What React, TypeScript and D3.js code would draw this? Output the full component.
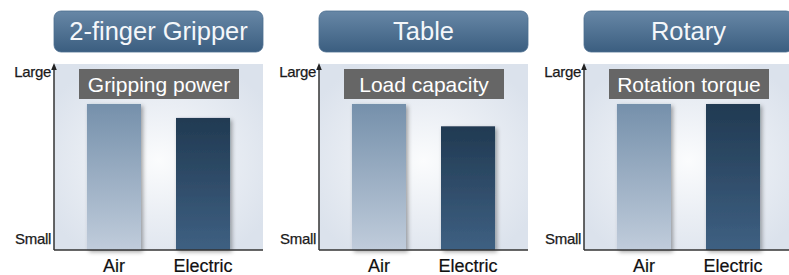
import React from "react";
import * as d3 from "d3";

const panelTitles = ["2-finger Gripper", "Table", "Rotary"];
const metricNames = ["Gripping power", "Load capacity", "Rotation torque"];
const categories = ["Air", "Electric"];
const airValues = [78.5, 78.5, 78.5];
const electricValues = [71, 66.5, 78.5];
const axisLabels = ["Small", "Large"];

const W = 789;
const H = 275;
const FONT = "'Liberation Sans', Arial, sans-serif";

export default function App() {
  const panelX = d3.scaleLinear().domain([0, 1]).range([54, 319]);
  const panelW = 209;
  const y = d3.scaleLinear().domain([0, 100]).range([250, 64]);

  return (
    <svg
      width={W}
      height={H}
      style={{ position: "absolute", left: 0, top: 0, background: "#fff" }}
      fontFamily={FONT}
    >
      <defs>
        <linearGradient id="titleGrad" x1="0" y1="0" x2="0" y2="1">
          <stop offset="0" stopColor="#6787a6" />
          <stop offset="1" stopColor="#3b5e80" />
        </linearGradient>
        <radialGradient id="bgGrad" cx="0.5" cy="0.52" r="0.6">
          <stop offset="0" stopColor="#fbfcfd" />
          <stop offset="0.5" stopColor="#eaeef4" />
          <stop offset="1" stopColor="#dbe2ec" />
        </radialGradient>
        <linearGradient id="airGrad" x1="0" y1="0" x2="0" y2="1">
          <stop offset="0" stopColor="#7590ab" />
          <stop offset="1" stopColor="#c0ccdb" />
        </linearGradient>
        <linearGradient id="elecGrad" x1="0" y1="0" x2="0" y2="1">
          <stop offset="0" stopColor="#213a52" />
          <stop offset="1" stopColor="#3e6082" />
        </linearGradient>
        <filter id="shadow" x="-20%" y="-10%" width="150%" height="130%">
          <feDropShadow dx="2" dy="2" stdDeviation="2" floodColor="#000" floodOpacity="0.35" />
        </filter>
      </defs>
      {panelTitles.map((title, i) => {
        const x0 = panelX(i);
        const x = d3
          .scaleBand<string>()
          .domain(categories)
          .range([x0, x0 + panelW])
          .paddingInner(0.393)
          .paddingOuter(0.37);
        const vals = [airValues[i], electricValues[i]];
        return (
          <g key={title}>
            <rect x={x0} y={11} width={panelW} height={41} rx={7} fill="url(#titleGrad)" stroke="#4d6f90" strokeWidth={0.8} />
            <text x={x0 + panelW / 2} y={40} textAnchor="middle" fill="#f4f7fa" fontSize={25.5}>
              {title}
            </text>
            <rect x={x0} y={y(100)} width={panelW} height={y(0) - y(100)} fill="url(#bgGrad)" />
            <rect x={x0 + 25} y={69} width={160} height={30} fill="#666666" />
            <text x={x0 + 105} y={91.5} textAnchor="middle" fill="#ffffff" fontSize={21}>
              {metricNames[i]}
            </text>
            {categories.map((c, j) => (
              <rect
                key={c}
                x={x(c)}
                y={y(vals[j])}
                width={x.bandwidth()}
                height={y(0) - y(vals[j])}
                fill={j === 0 ? "url(#airGrad)" : "url(#elecGrad)"}
                filter="url(#shadow)"
              />
            ))}
            <line x1={x0} x2={x0 + panelW} y1={y(0)} y2={y(0)} stroke="#333" strokeWidth={1.5} />
            <line x1={x0} x2={x0} y1={y(0)} y2={y(100) + 3} stroke="#333" strokeWidth={1.5} />
            <path
              d={`M${x0},${y(100) - 1} L${x0 - 2.8},${y(100) + 6} L${x0 + 2.8},${y(100) + 6} Z`}
              fill="#222"
            />
            <text x={x0 - 3} y={77} textAnchor="end" fontSize={15} fill="#1a1a1a" stroke="#1a1a1a" strokeWidth={0.25} letterSpacing={-0.3}>
              {axisLabels[1]}
            </text>
            <text x={x0 - 3} y={244} textAnchor="end" fontSize={15} fill="#1a1a1a" stroke="#1a1a1a" strokeWidth={0.25} letterSpacing={-0.3}>
              {axisLabels[0]}
            </text>
            {categories.map((c) => (
              <text
                key={c}
                x={(x(c) as number) + x.bandwidth() / 2}
                y={272}
                textAnchor="middle"
                fontSize={18}
                fill="#111"
                stroke="#111"
                strokeWidth={0.2}
              >
                {c}
              </text>
            ))}
          </g>
        );
      })}
    </svg>
  );
}
